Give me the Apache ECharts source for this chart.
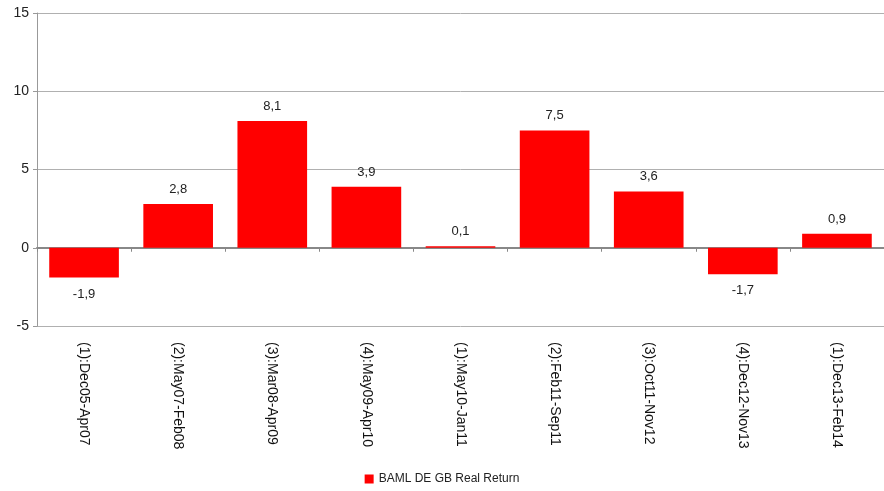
<!DOCTYPE html>
<html>
<head>
<meta charset="utf-8">
<script src="https://cdn.jsdelivr.net/npm/echarts@6/dist/echarts.min.js"></script>
<style>
  html, body { margin: 0; padding: 0; background: #fff; }
  #chart { width: 884px; height: 491px; }
</style>
</head>
<body>
<div id="chart"></div>
<script>
// Periods and their real returns (%)
const categories = [
  '(1):Dec05-Apr07', '(2):May07-Feb08', '(3):Mar08-Apr09', '(4):May09-Apr10',
  '(1):May10-Jan11', '(2):Feb11-Sep11', '(3):Oct11-Nov12', '(4):Dec12-Nov13',
  '(1):Dec13-Feb14'
];
const returns = [-1.9, 2.8, 8.1, 3.9, 0.1, 7.5, 3.6, -1.7, 0.9];
const seriesName = 'BAML DE GB Real Return';
const yTicks = { min: -5, max: 15, interval: 5 };

const narrow = '"Liberation Sans Narrow", "Liberation Sans", sans-serif';

const chart = echarts.init(document.getElementById('chart'));
chart.setOption({
  animation: false,
  grid: { left: 37, right: -1, top: 13, bottom: 165 },
  legend: {
    bottom: 1,
    left: 'center',
    itemWidth: 9, itemHeight: 9, itemGap: 4,
    icon: 'rect',
    textStyle: { fontFamily: narrow, fontSize: 12, color: '#222' },
    data: [seriesName]
  },
  xAxis: [
    {
      type: 'category',
      data: categories,
      axisLine: { onZero: true, lineStyle: { color: '#888', width: 2 } },
      axisTick: { show: true, interval: 0, length: 4, lineStyle: { color: '#888' } },
      axisLabel: { show: false }
    },
    {
      type: 'category',
      data: categories,
      position: 'bottom',
      axisLine: { show: false },
      axisTick: { show: false },
      axisLabel: {
        rotate: -90, margin: 16, interval: 0,
        fontFamily: '"Liberation Sans", Arial, sans-serif',
        fontSize: 14, color: '#111'
      }
    }
  ],
  yAxis: {
    type: 'value',
    min: yTicks.min, max: yTicks.max, interval: yTicks.interval,
    axisLine: { show: true, lineStyle: { color: '#999' } },
    axisTick: { show: true, length: 4, lineStyle: { color: '#999' } },
    axisLabel: { margin: 8, fontFamily: narrow, fontSize: 14, color: '#222' },
    splitLine: { lineStyle: { color: '#b0b0b0', width: 1 } }
  },
  series: [{
    name: seriesName,
    type: 'bar',
    xAxisIndex: 0,
    barCategoryGap: '26%',
    itemStyle: { color: '#ff0000' },
    data: returns.map(v => ({
      value: v,
      label: {
        show: true,
        position: v < 0 ? 'bottom' : 'top',
        distance: v < 0 ? 10 : 8,
        fontFamily: narrow, fontSize: 13, color: '#222',
        formatter: p => p.value.toFixed(1).replace('.', ',')
      }
    }))
  }]
});
</script>
</body>
</html>
